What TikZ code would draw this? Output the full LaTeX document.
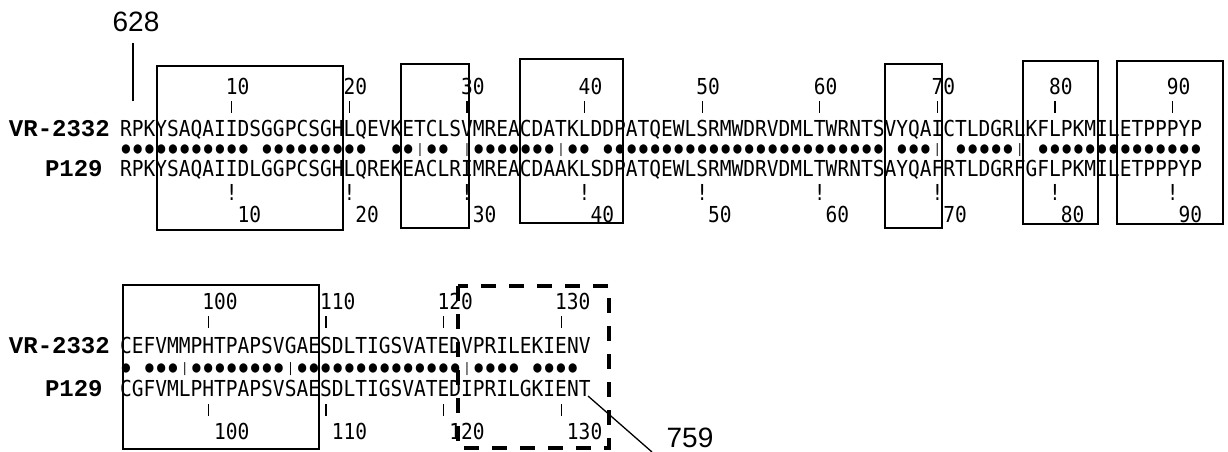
\documentclass[tikz,border=0pt]{standalone}
\usepackage{fontspec}
\newfontfamily\seqfont[FakeStretch=0.888]{DejaVu Sans Mono}
\newfontfamily\namefont{Liberation Mono}
\newfontfamily\numfont{Liberation Sans}
\newcommand\dotglyph{{\seqfont\fontsize{15.5}{16}\selectfont ●}}
\newcommand\barglyph{{\seqfont\fontsize{13}{14}\selectfont |}}
\newcommand\mchar[1]{\makebox[11.76pt]{\ifx#1o\dotglyph\else\ifx#1|\barglyph\fi\fi}}
\def\mline#1{\ifx\relax#1\else\mchar{#1}\expandafter\mline\fi}
\begin{document}
\begin{tikzpicture}[x=1pt,y=-1pt,
  seq/.style={anchor=base west,inner sep=0pt,outer sep=0pt,font=\seqfont\fontsize{22}{24}\selectfont},
  seqc/.style={anchor=base,inner sep=0pt,outer sep=0pt,font=\seqfont\fontsize{22}{24}\selectfont},
  matchrow/.style={anchor=base west,inner sep=0pt,outer sep=0pt},
  seqname/.style={anchor=base west,inner sep=0pt,outer sep=0pt,font=\namefont\bfseries\fontsize{24}{28}\selectfont},
  bignum/.style={anchor=base,inner sep=0pt,outer sep=0pt,font=\numfont\fontsize{28}{30}\selectfont},
  regbox/.style={draw,line width=1.5pt},
  dregbox/.style={draw,line width=4pt,dash pattern=on 15pt off 13pt},
  tickmark/.style={line width=1.2pt},
  leader/.style={line width=1.3pt}]
\useasboundingbox (0,0) rectangle (1228,452);
\def\xo{120.1}
\def\pp{11.76}
% ---------------- block 1 ----------------
\node[seqname] (nA1) at (9,136) {VR-2332};
\node[seqname] (nB1) at (45,176) {P129};
\node[seq] (sA1) at (\xo,136) {RPKYSAQAIIDSGGPCSGHLQEVKETCLSVMREACDATKLDDPATQEWLSRMWDRVDMLTWRNTSVYQAICTLDGRLKFLPKMILETPPPYP};
\node[matchrow] (m1) at (\xo,153.5) {\mline ooooooooooo.ooooooooo..oo|oo.|ooooooo|oo.oooooooooooooooooooooooo.ooo|.ooooo|.oooooooooooooo\relax};
\node[seq] (sB1) at (\xo,176) {RPKYSAQAIIDLGGPCSGHLQREKEACLRIMREACDAAKLSDPATQEWLSRMWDRVDMLTWRNTSAYQAFRTLDGRFGFLPKMILETPPPYP};
\foreach \n in {1,...,9}{
  \pgfmathsetmacro{\k}{10*\n}
  \pgfmathsetmacro{\xc}{\xo+(\k-0.5)*\pp}
  \pgfmathsetmacro{\xl}{\xo+(\k-1)*\pp}
  \pgfmathsetmacro{\xr}{\xo+\k*\pp}
  \pgfmathtruncatemacro{\lab}{\k}
  \node[seq] (tl\n) at (\xl,94) {\lab};
  \coordinate (ta\n) at (\xc,101);
  \coordinate (tb\n) at (\xc,113);
  \draw[tickmark] (ta\n) -- (tb\n);
  \node[seqc] (bt\n) at (\xc,200) {!};
  \node[seq] (bl\n) at (\xr,222) {\lab};
}
\draw[regbox] (157,66) rectangle (343,230);
\draw[regbox] (401,64) rectangle (469,228);
\draw[regbox] (520,59) rectangle (623,223);
\draw[regbox] (885,64) rectangle (942,228);
\draw[regbox] (1023,61) rectangle (1098,224);
\draw[regbox] (1117,61) rectangle (1223,224);
% ---------------- block 2 ----------------
\node[seqname] (nA2) at (9,353) {VR-2332};
\node[seqname] (nB2) at (45,396) {P129};
\node[seq] (sA2) at (\xo,353) {CEFVMMPHTPAPSVGAESDLTIGSVATEDVPRILEKIENV};
\node[matchrow] (m2) at (\xo,372.5) {\mline o.ooo|oooooooo|oooooooooooooo|oooo.oooo.\relax};
\node[seq] (sB2) at (\xo,396) {CGFVMLPHTPAPSVSAESDLTIGSVATEDIPRILGKIENT};
\foreach \n/\k in {1/8,2/18,3/28,4/38}{
  \pgfmathsetmacro{\xc}{\xo+(\k-0.5)*\pp}
  \pgfmathsetmacro{\xl}{\xo+(\k-1)*\pp}
  \pgfmathsetmacro{\xr}{\xo+\k*\pp}
  \pgfmathtruncatemacro{\lab}{\k+92}
  \node[seq] (ul\n) at (\xl,309) {\lab};
  \coordinate (ua\n) at (\xc,316);
  \coordinate (ub\n) at (\xc,328);
  \draw[tickmark] (ua\n) -- (ub\n);
  \coordinate (va\n) at (\xc,404);
  \coordinate (vb\n) at (\xc,416);
  \draw[tickmark] (va\n) -- (vb\n);
  \node[seq] (vl\n) at (\xr,439) {\lab};
}
\draw[regbox] (123,285) rectangle (319,449);
\draw[dregbox] (458,286) rectangle (609,448);
% ---------------- end labels ----------------
\node[bignum] (n628) at (136,32) {628};
\coordinate (a628) at (133,43);
\coordinate (b628) at (133,101);
\draw[leader] (a628) -- (b628);
\node[bignum] (n759) at (690,447) {759};
\coordinate (a759) at (588,396);
\coordinate (b759) at (652,452);
\draw[leader] (a759) -- (b759);
\end{tikzpicture}
\end{document}
